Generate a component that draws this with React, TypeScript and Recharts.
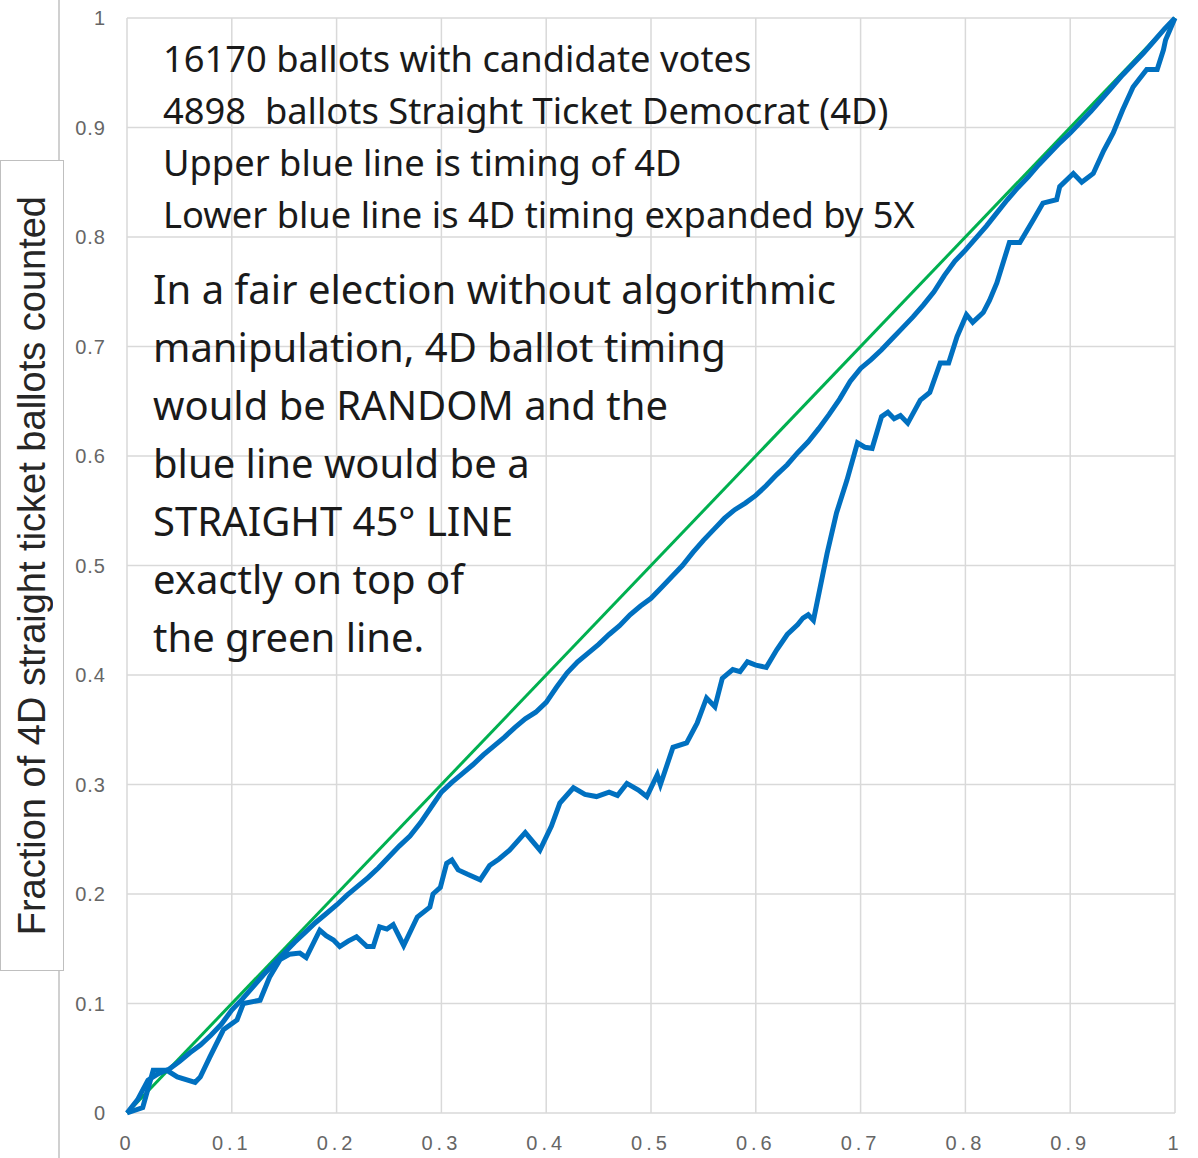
import React from "react";
import {
  LineChart,
  Line,
  XAxis,
  YAxis,
  CartesianGrid,
} from "recharts";

// axis ticks
const xTicks = [0, 0.1, 0.2, 0.3, 0.4, 0.5, 0.6, 0.7, 0.8, 0.9, 1];
const yTicks = [0, 0.1, 0.2, 0.3, 0.4, 0.5, 0.6, 0.7, 0.8, 0.9, 1];

// green reference line (random timing)
const greenX = [0, 1];
const greenY = [0, 1];

// upper blue line: timing of 4D
const upperX = [
  0, 0.01, 0.02, 0.03, 0.04, 0.05, 0.06, 0.07, 0.08, 0.09, 0.1, 0.11, 0.12, 0.13,
  0.14, 0.15, 0.16, 0.17, 0.18, 0.19, 0.2, 0.21, 0.22, 0.23, 0.24, 0.25, 0.26,
  0.27, 0.28, 0.29, 0.3, 0.31, 0.32, 0.33, 0.34, 0.35, 0.36, 0.37, 0.38, 0.39,
  0.4, 0.41, 0.42, 0.43, 0.44, 0.45, 0.46, 0.47, 0.48, 0.49, 0.5, 0.51, 0.52,
  0.53, 0.54, 0.55, 0.56, 0.57, 0.58, 0.59, 0.6, 0.61, 0.62, 0.63, 0.64, 0.65,
  0.66, 0.67, 0.68, 0.69, 0.7, 0.71, 0.72, 0.73, 0.74, 0.75, 0.76, 0.77, 0.78,
  0.79, 0.8, 0.81, 0.82, 0.83, 0.84, 0.85, 0.86, 0.87, 0.88, 0.89, 0.9, 0.91,
  0.92, 0.93, 0.94, 0.95, 0.96, 0.97, 0.98, 0.99, 1,
];
const upperY = [
  0, 0.012, 0.03, 0.036, 0.04, 0.047, 0.055, 0.062, 0.071, 0.081, 0.094, 0.104,
  0.115, 0.126, 0.136, 0.146, 0.156, 0.165, 0.174, 0.182, 0.19, 0.199, 0.207,
  0.215, 0.224, 0.234, 0.244, 0.253, 0.265, 0.279, 0.293, 0.302, 0.31, 0.318,
  0.327, 0.335, 0.343, 0.352, 0.36, 0.366, 0.375, 0.389, 0.402, 0.412, 0.42,
  0.428, 0.437, 0.445, 0.455, 0.463, 0.47, 0.48, 0.49, 0.5, 0.512, 0.523, 0.533,
  0.543, 0.551, 0.557, 0.564, 0.573, 0.583, 0.592, 0.603, 0.613, 0.625, 0.638,
  0.652, 0.668, 0.68, 0.688, 0.697, 0.707, 0.717, 0.727, 0.738, 0.75, 0.765,
  0.778, 0.788, 0.799, 0.81, 0.822, 0.834, 0.845, 0.855, 0.866, 0.876, 0.886,
  0.895, 0.905, 0.915, 0.926, 0.937, 0.948, 0.958, 0.968, 0.979, 0.99, 1,
];

// lower blue line: 4D timing expanded by 5X
const lowerX = [
  0, 0.015, 0.025, 0.038, 0.048, 0.065, 0.07, 0.079, 0.092, 0.105, 0.111, 0.127,
  0.136, 0.146, 0.155, 0.165, 0.171, 0.184, 0.19, 0.197, 0.203, 0.211, 0.219,
  0.229, 0.235, 0.241, 0.248, 0.254, 0.264, 0.277, 0.289, 0.292, 0.299, 0.305,
  0.31, 0.316, 0.325, 0.337, 0.346, 0.355, 0.365, 0.38, 0.387, 0.394, 0.405,
  0.413, 0.426, 0.437, 0.448, 0.46, 0.468, 0.477, 0.488, 0.496, 0.506, 0.509,
  0.521, 0.534, 0.544, 0.553, 0.561, 0.568, 0.578, 0.585, 0.592, 0.6, 0.61, 0.62,
  0.63, 0.64, 0.645, 0.65, 0.655, 0.668, 0.677, 0.687, 0.697, 0.704, 0.711, 0.72,
  0.726, 0.732, 0.738, 0.745, 0.757, 0.766, 0.776, 0.784, 0.792, 0.801, 0.807,
  0.817, 0.823, 0.83, 0.842, 0.852, 0.865, 0.874, 0.887, 0.89, 0.903, 0.911,
  0.922, 0.932, 0.941, 0.95, 0.96, 0.973, 0.983, 0.989, 0.991, 1,
];
const lowerY = [
  0, 0.005, 0.039, 0.039, 0.033, 0.028, 0.033, 0.051, 0.076, 0.085, 0.1, 0.103,
  0.124, 0.14, 0.145, 0.146, 0.142, 0.167, 0.162, 0.158, 0.152, 0.157, 0.161,
  0.152, 0.152, 0.17, 0.168, 0.172, 0.153, 0.179, 0.188, 0.2, 0.206, 0.228,
  0.231, 0.222, 0.218, 0.213, 0.226, 0.232, 0.24, 0.256, 0.248, 0.24, 0.262,
  0.283, 0.297, 0.291, 0.289, 0.293, 0.29, 0.301, 0.295, 0.289, 0.309, 0.3,
  0.334, 0.338, 0.356, 0.379, 0.371, 0.397, 0.405, 0.403, 0.412, 0.409, 0.407,
  0.423, 0.437, 0.446, 0.452, 0.455, 0.45, 0.511, 0.548, 0.578, 0.612, 0.608,
  0.607, 0.636, 0.64, 0.634, 0.637, 0.63, 0.651, 0.658, 0.685, 0.685, 0.709,
  0.729, 0.722, 0.731, 0.742, 0.758, 0.795, 0.795, 0.816, 0.831, 0.834, 0.846,
  0.858, 0.85, 0.858, 0.879, 0.895, 0.916, 0.937, 0.953, 0.953, 0.971, 0.98, 1,
];

const toPoints = (xs: number[], ys: number[]) =>
  xs.map((x, i) => ({ x, y: ys[i] }));

const greenData = toPoints(greenX, greenY);
const upperData = toPoints(upperX, upperY);
const lowerData = toPoints(lowerX, lowerY);

const topNotes = [
  "16170 ballots with candidate votes",
  "4898  ballots Straight Ticket Democrat (4D)",
  "Upper blue line is timing of 4D",
  "Lower blue line is 4D timing expanded by 5X",
];

const fairNotes = [
  "In a fair election without algorithmic",
  "manipulation, 4D ballot timing",
  "would be RANDOM and the",
  "blue line would be a",
  "STRAIGHT 45° LINE",
  "exactly on top of",
  "the green line.",
];

const noteFont = "'Noto Sans', sans-serif";

export default function App() {
  return (
    <div
      style={{
        position: "absolute",
        left: 0,
        top: 0,
        width: 1198,
        height: 1158,
        background: "#ffffff",
        overflow: "hidden",
      }}
    >
      <LineChart
        width={1198}
        height={1158}
        margin={{ top: 18, right: 23, bottom: 0, left: 0 }}
      >
        <CartesianGrid stroke="#d9d9d9" strokeWidth={1.5} />
        <XAxis
          type="number"
          dataKey="x"
          domain={[0, 1]}
          ticks={xTicks}
          height={45}
          axisLine={false}
          tickLine={false}
          tickSize={6}
          tickMargin={17}
          tick={{
            fill: "#666666",
            fontSize: 20,
            fontFamily: "'Liberation Sans', sans-serif",
            letterSpacing: 4,
          }}
        />
        <YAxis
          type="number"
          dataKey="y"
          domain={[0, 1]}
          ticks={yTicks}
          width={127}
          axisLine={false}
          tickLine={false}
          tickSize={6}
          tickMargin={15}
          tick={{
            fill: "#666666",
            fontSize: 20,
            fontFamily: "'Liberation Sans', sans-serif",
            letterSpacing: 1,
          }}
        />
        <Line
          data={greenData}
          dataKey="y"
          stroke="#00b050"
          strokeWidth={3}
          dot={false}
          isAnimationActive={false}
        />
        <Line
          data={upperData}
          dataKey="y"
          stroke="#0070c0"
          strokeWidth={5}
          dot={false}
          isAnimationActive={false}
        />
        <Line
          data={lowerData}
          dataKey="y"
          stroke="#0070c0"
          strokeWidth={5}
          dot={false}
          isAnimationActive={false}
        />
      </LineChart>

      {/* thin frame line left of the axis labels */}
      <div
        style={{
          position: "absolute",
          left: 58,
          top: 0,
          width: 1.5,
          height: 1158,
          background: "#d0d0d0",
        }}
      />

      {/* y axis title box */}
      <div
        style={{
          position: "absolute",
          left: 0,
          top: 160,
          width: 62,
          height: 809,
          background: "#ffffff",
          border: "1px solid #bfbfbf",
          display: "flex",
          alignItems: "center",
          justifyContent: "center",
        }}
      >
        <div
          style={{
            writingMode: "vertical-rl",
            transform: "rotate(180deg)",
            fontFamily: "'Liberation Sans', sans-serif",
            fontSize: 38,
            color: "#262626",
            whiteSpace: "nowrap",
          }}
        >
          Fraction of 4D straight ticket ballots counted
        </div>
      </div>

      <div
        style={{
          position: "absolute",
          left: 163,
          top: 32,
          fontFamily: noteFont,
          fontSize: 36.3,
          lineHeight: "52px",
          color: "#1a1a1a",
          whiteSpace: "pre",
        }}
      >
        {topNotes.map((t) => (
          <div key={t}>{t}</div>
        ))}
      </div>

      <div
        style={{
          position: "absolute",
          left: 153,
          top: 260,
          fontFamily: noteFont,
          fontSize: 40,
          lineHeight: "58px",
          color: "#1a1a1a",
          whiteSpace: "pre",
        }}
      >
        {fairNotes.map((t) => (
          <div key={t}>{t}</div>
        ))}
      </div>
    </div>
  );
}
